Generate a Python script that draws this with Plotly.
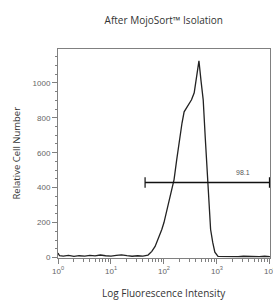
import math
import plotly.graph_objects as go

# Histogram: fluorescence intensity vs relative cell number
fluorescence = [1, 1.07, 1.26, 1.58, 2.0, 2.5, 3.2, 4.0, 5.0, 6.3, 7.9, 10, 12.6, 15.8, 20, 25, 32, 40,
                50, 59, 68, 79, 91, 100, 112, 123, 135, 155, 174, 195, 219, 240, 282, 331, 372, 417,
                457, 501, 550, 603, 668, 708, 759, 832, 912, 1047, 1259, 1585, 1995, 2512, 3162,
                3981, 5012, 6310, 7943, 10000]
cell_counts = [25, 10, 8, 12, 6, 10, 8, 12, 9, 14, 10, 8, 12, 15, 10, 7, 10, 8,
               14, 35, 63, 110, 160, 200, 263, 315, 371, 446, 560, 680, 770, 834, 870, 903, 943, 1040,
               1126, 1010, 903, 680, 429, 257, 160, 86, 30, 6, 5, 8, 6, 5, 7,
               5, 6, 5, 7, 5]

gate_start = 44
gate_end = 9800
gate_level = 429
gate_label = "98.1"
gate_label_x = 3090
gate_label_y = 486

x_tickvals = [1, 10, 100, 1000, 10000]
x_ticktext = ["10<sup>0</sup>", "10<sup>1</sup>", "10<sup>2</sup>", "10<sup>3</sup>", "10<sup>4</sup>"]
x_minor = [m * d for d in [1, 10, 100, 1000] for m in range(2, 10)]
y_tickvals = [0, 200, 400, 600, 800, 1000]

axis_color = "#808080"
tick_font = dict(family="Liberation Sans, Arial, sans-serif", size=8, color="#666666")
title_font = dict(family="Open Sans, sans-serif", size=10, color="#333333")

fig = go.Figure()
fig.add_trace(go.Scatter(x=fluorescence, y=cell_counts, mode="lines",
                         line=dict(color="#222222", width=1.3), hoverinfo="skip"))
# gate bar
fig.add_trace(go.Scatter(x=[gate_start, gate_end], y=[gate_level, gate_level], mode="lines",
                         line=dict(color="#111111", width=1.6), hoverinfo="skip"))
fig.add_trace(go.Scatter(x=[gate_start, gate_start, None, gate_end, gate_end],
                         y=[gate_level - 30, gate_level + 30, None, gate_level - 30, gate_level + 30],
                         mode="lines", line=dict(color="#111111", width=1.2), hoverinfo="skip"))

# annotations on a log axis take log10 positions
fig.add_annotation(x=math.log10(gate_label_x), y=gate_label_y, xref="x", yref="y", text=gate_label,
                   showarrow=False, font=dict(family="Liberation Sans, Arial, sans-serif", size=7, color="#555555"))
fig.add_annotation(x=0.5, y=-0.167, xref="paper", yref="paper", text="Log Fluorescence Intensity",
                   showarrow=False, font=title_font, xanchor="center", yanchor="middle")
fig.add_annotation(x=-0.198, y=0.5, xref="paper", yref="paper", text="Relative Cell Number",
                   showarrow=False, font=dict(family="Open Sans, sans-serif", size=9.5, color="#333333"),
                   textangle=-90, xanchor="center", yanchor="middle")

fig.update_layout(
    width=273, height=300,
    margin=dict(l=58, r=3, t=49, b=42, autoexpand=False),
    paper_bgcolor="white", plot_bgcolor="white",
    showlegend=False,
    title=dict(text="After MojoSort™ Isolation", x=0.6, xanchor="center", y=1 - 20 / 300, yanchor="middle",
               font=title_font),
    xaxis=dict(type="log", range=[0, 4.001], tickvals=x_tickvals, ticktext=x_ticktext, automargin=False,
               ticklabeloverflow="allow",
               showgrid=False, zeroline=False, showline=True, linecolor=axis_color, linewidth=1,
               mirror=True, ticks="outside", ticklen=5, tickcolor=axis_color, tickfont=tick_font,
               minor=dict(tickvals=x_minor, ticks="outside", ticklen=2.5, tickcolor=axis_color, showgrid=False)),
    yaxis=dict(range=[-3, 1194], tickvals=y_tickvals, automargin=False,
               showgrid=False, zeroline=False, showline=True, linecolor=axis_color, linewidth=1,
               mirror=True, ticks="outside", ticklen=5, tickcolor=axis_color, tickfont=tick_font,
               minor=dict(dtick=50, ticks="outside", ticklen=2.5, tickcolor=axis_color, showgrid=False)),
)

fig.write_html(
    "out.html",
    config={"displayModeBar": False},
    post_script="document.body.style.margin='0';document.body.style.overflow='hidden';"
                "document.documentElement.style.overflow='hidden';",
)
